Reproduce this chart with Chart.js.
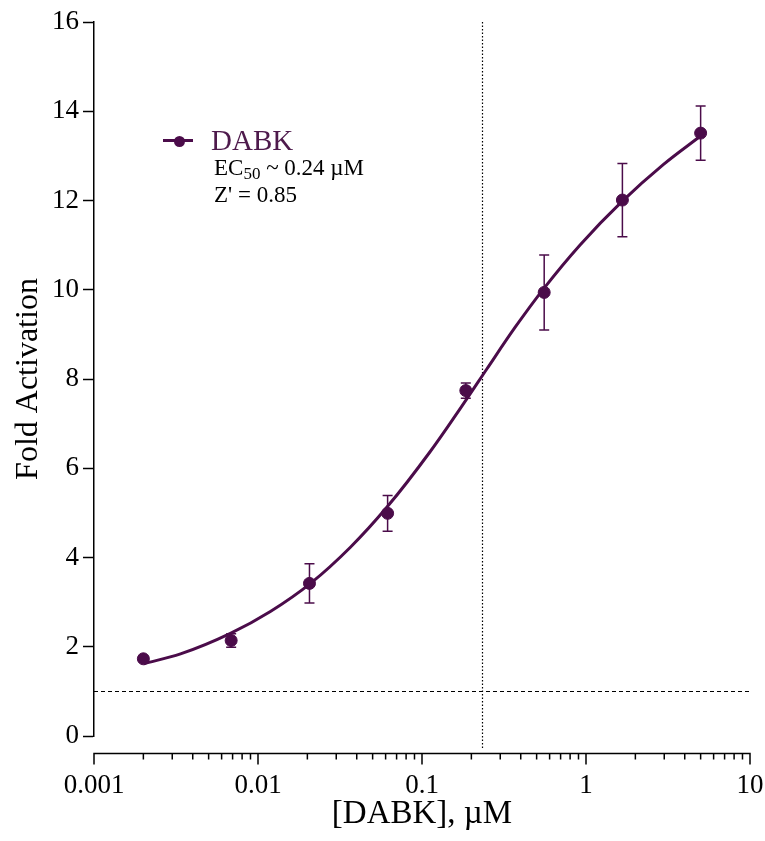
<!DOCTYPE html>
<html>
<head>
<meta charset="utf-8">
<title>DABK dose response</title>
<script src="https://cdn.jsdelivr.net/npm/chart.js@4.4.1/dist/chart.umd.min.js"></script>
<style>
  html, body { margin: 0; padding: 0; background: #fff; }
  #wrap { position: relative; width: 765px; height: 841px; overflow: hidden; }
  #chart { position: absolute; left: 0; top: 0; }
  .note { position: absolute; font-family: "Liberation Serif", "Times New Roman", serif; white-space: nowrap; color: #000; }
  #legend-line { position: absolute; left: 163px; top: 139px; width: 30px; height: 3px; background: #4b0c4a; }
  #legend-dot { position: absolute; left: 174px; top: 135.5px; width: 11px; height: 11px; border-radius: 50%; background: #4b0c4a; }
  #legend-label { left: 211px; top: 126px; font-size: 29px; line-height: 29px; color: #4e1a4c; }
  #ec50 { left: 214px; top: 156px; font-size: 23px; line-height: 23px; }
  #ec50 sub { font-size: 17px; vertical-align: -4px; line-height: 0; }
  #zprime { left: 214px; top: 183px; font-size: 23px; line-height: 23px; }
</style>
</head>
<body>
<div id="wrap">
  <canvas id="chart" width="765" height="841"></canvas>
  <div id="legend-line"></div>
  <div id="legend-dot"></div>
  <div class="note" id="legend-label">DABK</div>
  <div class="note" id="ec50">EC<sub>50</sub> ~ 0.24 µM</div>
  <div class="note" id="zprime">Z' = 0.85</div>
</div>
<script>
// measured points (mean +/- error)
const concentrations = [0.002, 0.00686, 0.0206, 0.0617, 0.185, 0.556, 1.667, 5];
const foldActivation = [1.73, 2.14, 3.42, 4.99, 7.74, 9.94, 12.01, 13.51];
const foldError = [0.05, 0.15, 0.44, 0.40, 0.17, 0.84, 0.82, 0.61];

// fitted curve
const fitX = [0.00201, 0.00337, 0.00679, 0.0119, 0.0209, 0.0366, 0.0612, 0.112, 0.188, 0.249, 0.370, 0.551, 0.923, 1.66, 2.97, 4.97];
const fitY = [1.62, 1.84, 2.30, 2.79, 3.42, 4.23, 5.13, 6.37, 7.56, 8.23, 9.16, 10.02, 11.01, 11.98, 12.81, 13.44];

const ec50 = 0.233;
const baselineFold = 1;

const xMajorTicks = [0.001, 0.01, 0.1, 1, 10];
const xTickLabels = ["0.001", "0.01", "0.1", "1", "10"];
const xMinorSteps = [2, 3, 4, 5, 6, 7, 8, 9];
const yTicks = [0, 2, 4, 6, 8, 10, 12, 14, 16];

const purple = "#4b0c4a";
const serif = "'Liberation Serif', 'Times New Roman', serif";

const guideLines = {
    id: "guideLines",
    beforeDatasetsDraw(chart) {
        const { ctx, chartArea, scales: { x, y } } = chart;
        ctx.save();
        ctx.strokeStyle = "#000";
        ctx.lineWidth = 1.2;

        ctx.setLineDash([4, 3]);
        const yb = Math.round(y.getPixelForValue(baselineFold)) + 0.5;
        ctx.beginPath();
        ctx.moveTo(chartArea.left, yb);
        ctx.lineTo(chartArea.right, yb);
        ctx.stroke();

        ctx.setLineDash([1.5, 2]);
        const xe = Math.round(x.getPixelForValue(ec50)) + 0.5;
        ctx.beginPath();
        ctx.moveTo(xe, chartArea.top);
        ctx.lineTo(xe, chartArea.bottom + 14);
        ctx.stroke();

        // error bars
        ctx.setLineDash([]);
        ctx.strokeStyle = purple;
        ctx.lineWidth = 1.5;
        concentrations.forEach((c, i) => {
            const px = x.getPixelForValue(c);
            const top = y.getPixelForValue(foldActivation[i] + foldError[i]);
            const bot = y.getPixelForValue(foldActivation[i] - foldError[i]);
            ctx.beginPath();
            ctx.moveTo(px, top); ctx.lineTo(px, bot);
            ctx.moveTo(px - 5, top); ctx.lineTo(px + 5, top);
            ctx.moveTo(px - 5, bot); ctx.lineTo(px + 5, bot);
            ctx.stroke();
        });
        ctx.restore();
    }
};

// x axis sits a little below the y axis, GraphPad style
const offsetXAxis = {
    id: "offsetXAxis",
    afterDraw(chart) {
        const { ctx, chartArea, scales: { x } } = chart;
        const ya = chartArea.bottom + 17.5;
        ctx.save();
        ctx.strokeStyle = "#000";
        ctx.lineWidth = 1.5;
        ctx.beginPath();
        ctx.moveTo(chartArea.left - 0.75, ya);
        ctx.lineTo(chartArea.right + 0.75, ya);
        xMajorTicks.forEach(v => {
            const px = x.getPixelForValue(v);
            ctx.moveTo(px, ya);
            ctx.lineTo(px, ya + 11);
        });
        xMajorTicks.slice(0, -1).forEach(d => {
            xMinorSteps.forEach(m => {
                const px = x.getPixelForValue(d * m);
                ctx.moveTo(px, ya);
                ctx.lineTo(px, ya + 6);
            });
        });
        ctx.stroke();
        ctx.restore();
    }
};

new Chart(document.getElementById("chart").getContext("2d"), {
    type: "scatter",
    data: {
        datasets: [
            {
                label: "DABK",
                data: concentrations.map((c, i) => ({ x: c, y: foldActivation[i] })),
                backgroundColor: purple,
                borderColor: purple,
                pointRadius: 6,
                pointHoverRadius: 6,
                order: 1
            },
            {
                label: "fit",
                data: fitX.map((c, i) => ({ x: c, y: fitY[i] })),
                showLine: true,
                pointRadius: 0,
                borderColor: purple,
                borderWidth: 3,
                cubicInterpolationMode: "monotone",
                order: 2
            }
        ]
    },
    options: {
        responsive: false,
        animation: false,
        events: [],
        layout: { padding: { top: 22, right: 15, left: 0, bottom: 0 } },
        plugins: { legend: { display: false }, tooltip: { enabled: false } },
        scales: {
            x: {
                type: "logarithmic",
                min: 0.001,
                max: 10,
                grid: { display: false },
                border: { display: false },
                afterBuildTicks: s => { s.ticks = xMajorTicks.map(v => ({ value: v, major: true })); },
                afterFit: s => { s.height = 105; s.paddingLeft = 0; s.paddingRight = 0; },
                ticks: {
                    font: { family: serif, size: 27 },
                    color: "#000",
                    padding: 26,
                    maxRotation: 0,
                    autoSkip: false,
                    callback: (v, i) => xTickLabels[i]
                },
                title: {
                    display: true,
                    text: "[DABK], µM",
                    font: { family: serif, size: 33 },
                    color: "#000",
                    padding: { top: 0, bottom: 7 }
                }
            },
            y: {
                min: 0,
                max: 16,
                afterBuildTicks: s => { s.ticks = yTicks.map(v => ({ value: v })); },
                afterFit: s => { s.width = 94; s.paddingTop = 0; s.paddingBottom = 0; },
                grid: { drawOnChartArea: false, drawTicks: true, tickLength: 11, tickColor: "#000", tickWidth: 1.5 },
                border: { display: true, color: "#000", width: 1.5 },
                ticks: {
                    font: { family: serif, size: 27 },
                    color: "#000",
                    padding: 4,
                    callback: v => String(v)
                },
                title: {
                    display: true,
                    text: "Fold Activation",
                    font: { family: serif, size: 32 },
                    color: "#000",
                    padding: { top: 9, bottom: 0 }
                }
            }
        }
    },
    plugins: [guideLines, offsetXAxis]
});
</script>
</body>
</html>
